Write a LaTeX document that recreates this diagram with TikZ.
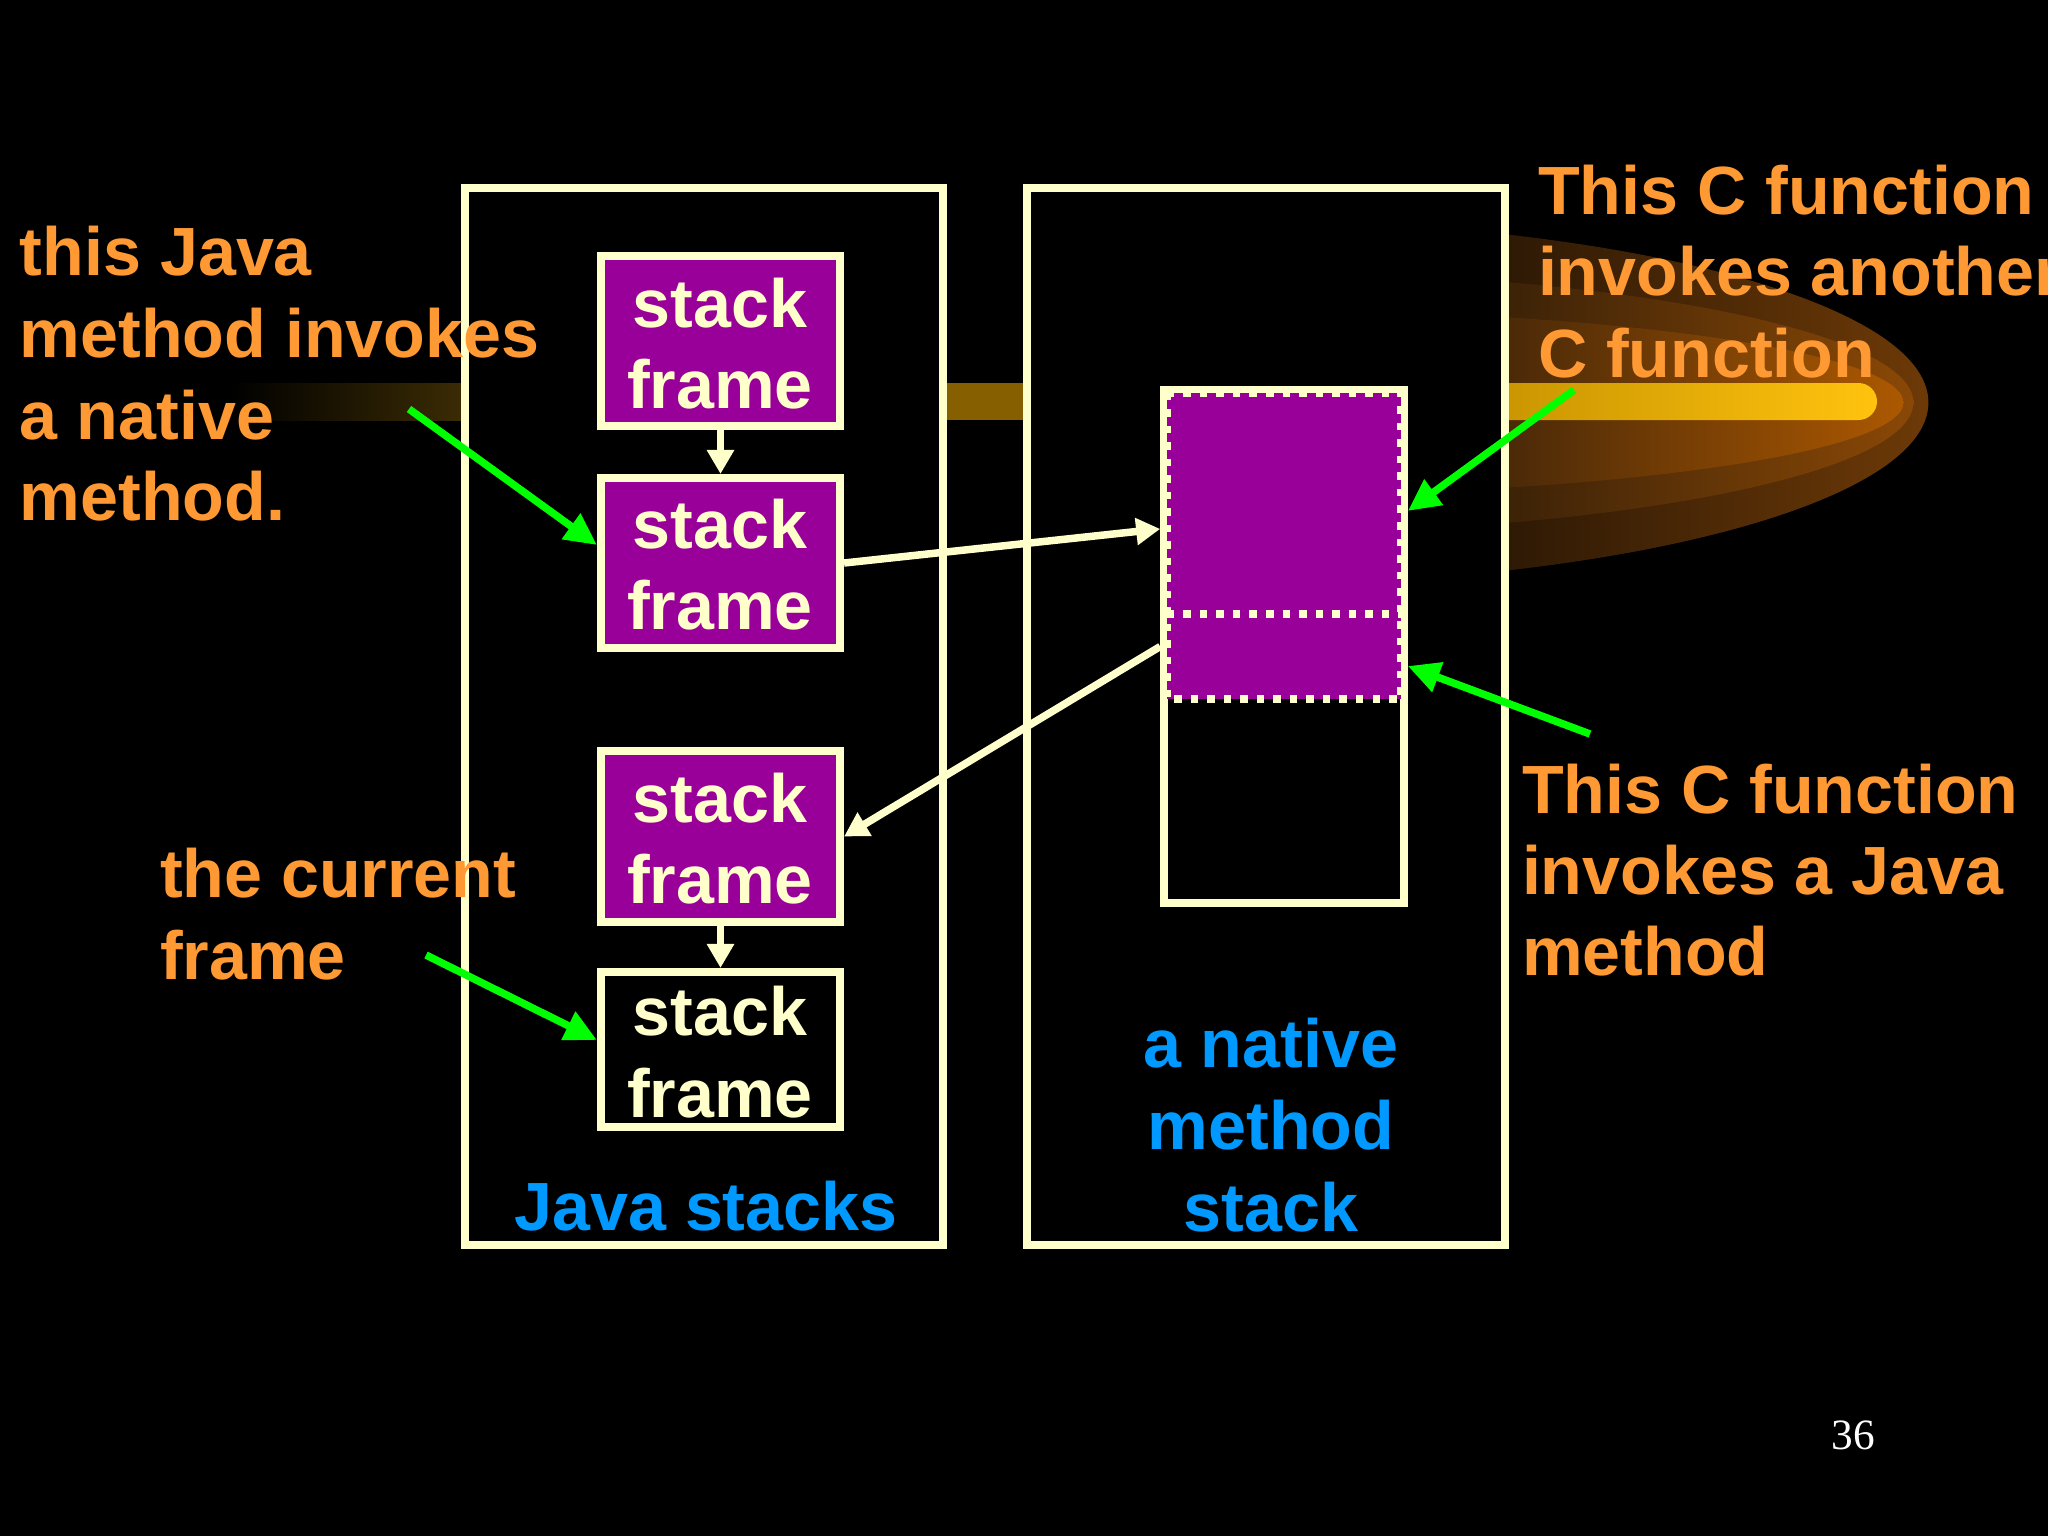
\documentclass[tikz,border=0pt]{standalone}
\usepackage{fontspec}
\setmainfont{Liberation Sans}
\newfontfamily\serifnum{Liberation Serif}
\usetikzlibrary{arrows.meta}
\definecolor{cream}{HTML}{FFFFCC}
\definecolor{fpurple}{HTML}{990099}
\definecolor{lorange}{HTML}{FF9933}
\definecolor{lblue}{HTML}{0099FF}
\definecolor{lgreen}{HTML}{00FF00}
\definecolor{bandl}{HTML}{3D2D04}
\definecolor{bandm}{HTML}{866000}
\definecolor{goldl}{HTML}{C49000}
\definecolor{goldr}{HTML}{FFC30E}
\definecolor{glowAl}{HTML}{2E1905}
\definecolor{glowAr}{HTML}{6E3A07}
\definecolor{glowBl}{HTML}{3C2207}
\definecolor{glowBr}{HTML}{8E4A06}
\definecolor{glowCl}{HTML}{4A2908}
\definecolor{glowCr}{HTML}{B45C00}
\begin{document}
\begin{tikzpicture}[x=0.01cm,y=-0.01cm,
  txt/.style={font=\bfseries\fontsize{19.4pt}{23pt}\selectfont, inner sep=0pt, outer sep=0pt},
  otxt/.style={txt, text=lorange, anchor=base west},
  btxt/.style={txt, text=lblue, anchor=base},
  ftxt/.style={txt, text=cream, anchor=base},
  bigbox/.style={draw=cream, line width=0.08cm, fill=black, minimum width=4.78cm, minimum height=10.57cm, inner sep=0pt},
  frm/.style={draw=cream, line width=0.08cm, fill=fpurple, minimum width=2.39cm, minimum height=1.70cm, inner sep=0pt},
  segfill/.style={fill=fpurple, draw=none, inner sep=0pt, outer sep=0pt, minimum width=2.34cm},
  dotline/.style={draw=cream, line width=0.075cm, dash pattern=on 0.075cm off 0.09cm},
  creamarrow/.style={draw=cream, line width=0.075cm, -{Triangle[length=0.24cm,width=0.26cm]}},
  greenarrow/.style={draw=lgreen, line width=0.075cm, -{Triangle[length=0.32cm,width=0.30cm]}},
]
\useasboundingbox (0,0) rectangle (2048,1536);
\fill[black] (0,0) rectangle (2048,1536);

% glow band
\shade[left color=black, right color=bandl] (230,383) rectangle (470,420);
\fill[bandm] (940,383) rectangle (1030,420);
\begin{scope}
  \clip (1505,150) rectangle (2048,650);
  \begin{scope}
    \clip (1228,402.5) ellipse [x radius=7cm, y radius=1.83cm];
    \shade[left color=glowAl, right color=glowAr] (1505,200) rectangle (1935,610);
  \end{scope}
  \begin{scope}
    \clip (1228,402.5) ellipse [x radius=6.85cm, y radius=1.317cm];
    \shade[left color=glowBl, right color=glowBr] (1505,200) rectangle (1935,610);
  \end{scope}
  \begin{scope}
    \clip (1228,402.5) ellipse [x radius=6.75cm, y radius=0.935cm];
    \shade[left color=glowCl, right color=glowCr] (1505,200) rectangle (1935,610);
  \end{scope}
\end{scope}
\shade[left color=goldl, right color=goldr, rounded corners=0.185cm] (1460,383) rectangle (1877,420);

% big boxes
\node[bigbox] (java) at (704,716.5) {};
\node[bigbox] (native) at (1266,716.5) {};

% java stack frames
\node[frm] (f1) at (720.5,341) {};
\node[frm] (f2) at (720.5,563) {};
\node[frm] (f3) at (720.5,836.5) {};
\node[frm, fill=black, minimum height=1.55cm] (f4) at (720.5,1049.5) {};

% native method stack
\node[draw=cream, line width=0.075cm, minimum width=2.40cm, minimum height=5.13cm, inner sep=0pt] (nstack) at (1284,646.5) {};
\node[segfill, minimum height=2.21cm] (ntop) at (1284,503.5) {};
\node[segfill, minimum height=0.85cm] (nbot) at (1284,656.5) {};
\draw[dotline] (ntop.north west) -- (ntop.north east) -- (nbot.south east) -- (nbot.south west) -- cycle;
\draw[dotline] (ntop.south west) -- (ntop.south east);

% cream arrows
\draw[creamarrow] (f1) -- (f2);
\draw[creamarrow] (f3) -- (f4);
\draw[creamarrow] (f2.east) -- ([yshift=1.175cm]nstack.west);
\draw[creamarrow] (nstack.west) -- (f3.east);

% green arrows
\coordinate (g1) at (409,409);
\coordinate (g2) at (1574,390);
\coordinate (g3) at (1590,734);
\coordinate (g4) at (426,955);
\draw[greenarrow] (g1) -- ([yshift=0.18cm]f2.west);
\draw[greenarrow] (g2) -- ([yshift=1.355cm]nstack.east);
\draw[greenarrow] (g3) -- ([yshift=-0.195cm]nstack.east);
\draw[greenarrow] (g4) -- ([yshift=0.095cm]f4.west);

% frame texts
\node[ftxt] (f1a) at (720,327) {stack};
\node[ftxt] (f1b) at (720,408) {frame};
\node[ftxt] (f2a) at (720,548) {stack};
\node[ftxt] (f2b) at (720,629) {frame};
\node[ftxt] (f3a) at (720,822) {stack};
\node[ftxt] (f3b) at (720,903) {frame};
\node[ftxt] (f4a) at (720,1035) {stack};
\node[ftxt] (f4b) at (720,1117) {frame};

% orange labels
\node[otxt] (l1) at (20,275) {this Java};
\node[otxt] (l2) at (20,357) {method invokes};
\node[otxt] (l3) at (20,439) {a native};
\node[otxt] (l4) at (20,520) {method.};
\node[otxt] (c1) at (160,897) {the current};
\node[otxt] (c2) at (160,979) {frame};
\node[otxt] (r1) at (1538,214) {This C function};
\node[otxt] (r2) at (1538,295) {invokes another};
\node[otxt] (r3) at (1538,377) {C function};
\node[otxt] (s1) at (1522,813) {This C function};
\node[otxt] (s2) at (1522,894) {invokes a Java};
\node[otxt] (s3) at (1522,975) {method};

% blue labels
\node[btxt] (j1) at (706,1230) {Java stacks};
\node[btxt] (n1) at (1271,1067) {a native};
\node[btxt] (n2) at (1271,1149) {method};
\node[btxt] (n3) at (1271,1231) {stack};

% page number
\node[font=\serifnum\fontsize{12.3pt}{14pt}\selectfont, text=white, anchor=base, inner sep=0pt] (pg) at (1853,1449) {36};
\end{tikzpicture}
\end{document}
